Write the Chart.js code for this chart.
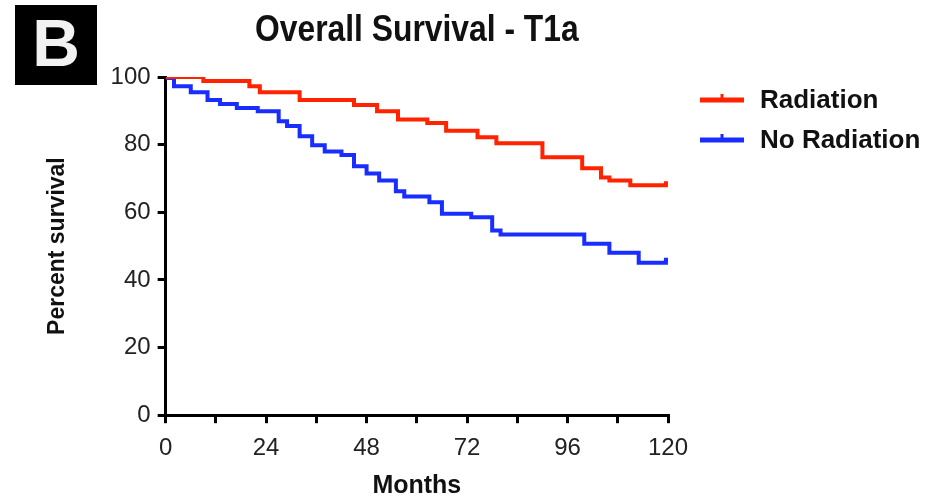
<!DOCTYPE html>
<html>
<head>
<meta charset="utf-8">
<script src="https://cdn.jsdelivr.net/npm/chart.js@4"></script>
<style>
  html, body { margin: 0; padding: 0; background: #fff; }
  #wrap { width: 932px; height: 498px; }
</style>
</head>
<body>
<div id="wrap"><canvas id="survivalChart"></canvas></div>
<script>
// KAPLAN-MEIER STEPS (month of drop, survival % after it)
const radMonths = [0, 9, 20, 22.5, 32, 45, 50.5, 55.5, 62.5, 67, 74.5, 79, 90, 99.5, 104, 106, 111, 119.5, 120];
const radSurvival = [100, 98.8, 97.3, 95.5, 93.2, 91.7, 89.9, 87.4, 86.4, 84.1, 82.2, 80.4, 76.3, 73, 70.3, 69.4, 68, 68.6, 68.6];

const noRadMonths = [0, 0.5, 2, 6, 10, 13, 17, 22, 27, 29, 32, 35, 38, 42, 45, 48, 51, 55, 57, 63, 66, 73, 78, 80, 100, 106, 113, 119.5, 120];
const noRadSurvival = [100, 99.7, 97.3, 95.5, 93.2, 92, 90.8, 89.9, 86.9, 85.5, 82.5, 79.8, 78, 76.9, 73.6, 71.5, 69.4, 66.2, 64.7, 63, 59.6, 58.5, 54.6, 53.4, 50.7, 48, 45.1, 46, 46];

const seriesLabels = ['Radiation', 'No Radiation'];
const xTickValues = [0, 24, 48, 72, 96, 120];

const FONT = '"Liberation Sans", Arial, sans-serif';

function toPoints(xs, ys) {
  return xs.map((x, i) => ({ x: x, y: ys[i] }));
}

// panel letter, condensed title and the legend on the right
const decorations = {
  id: 'decorations',
  afterDraw(chart) {
    const ctx = chart.ctx;
    const area = chart.chartArea;
    ctx.save();

    // "B" badge
    ctx.fillStyle = '#000';
    ctx.fillRect(15, 5, 82, 80);
    ctx.fillStyle = '#f2f2f2';
    ctx.font = 'bold 66px ' + FONT;
    ctx.textAlign = 'center';
    ctx.textBaseline = 'middle';
    ctx.fillText('B', 56, 48);

    // title, a bit narrow like the original
    ctx.save();
    ctx.translate((area.left + area.right) / 2, 31);
    ctx.scale(0.86, 1);
    ctx.fillStyle = '#111';
    ctx.font = 'bold 37px ' + FONT;
    ctx.fillText('Overall Survival - T1a', 0, 0);
    ctx.restore();

    // legend
    ctx.font = 'bold 26px ' + FONT;
    ctx.textAlign = 'left';
    chart.data.datasets.forEach((ds, i) => {
      const y = 100 + i * 40;
      ctx.fillStyle = ds.borderColor;
      ctx.fillRect(700, y - 2.5, 44, 5);
      ctx.fillRect(720.5, y - 6, 3, 6);
      ctx.fillStyle = '#111';
      ctx.fillText(ds.label, 760, y + 1);
    });
    ctx.restore();
  }
};

const ctx = document.getElementById('survivalChart').getContext('2d');
new Chart(ctx, {
  type: 'line',
  data: {
    datasets: [
      {
        label: seriesLabels[0],
        data: toPoints(radMonths, radSurvival),
        borderColor: 'rgb(255, 35, 0)',
        backgroundColor: 'rgb(255, 35, 0)',
        borderWidth: 4,
        pointRadius: 0,
        stepped: true
      },
      {
        label: seriesLabels[1],
        data: toPoints(noRadMonths, noRadSurvival),
        borderColor: 'rgb(25, 45, 255)',
        backgroundColor: 'rgb(25, 45, 255)',
        borderWidth: 4,
        pointRadius: 0,
        stepped: true
      }
    ]
  },
  options: {
    responsive: true,
    maintainAspectRatio: false,
    animation: false,
    layout: { padding: { top: 77, left: 32, right: 264, bottom: -1 } },
    plugins: {
      tooltip: { enabled: false },
      title: { display: false },
      legend: { display: false }
    },
    scales: {
      x: {
        type: 'linear',
        min: 0,
        max: 120,
        ticks: {
          stepSize: 12,
          autoSkip: false,
          maxRotation: 0,
          padding: 11,
          color: '#222',
          font: { family: FONT, size: 24 },
          callback: v => (xTickValues.includes(v) ? v : '')
        },
        grid: { drawOnChartArea: false, drawTicks: true, tickLength: 8, color: '#000', lineWidth: 3 },
        border: { color: '#000', width: 3 },
        title: {
          display: true,
          text: 'Months',
          color: '#111',
          font: { family: FONT, size: 25, weight: 'bold', lineHeight: 1 },
          padding: { top: 0, bottom: 0 }
        }
      },
      y: {
        min: 0,
        max: 100,
        ticks: {
          stepSize: 20,
          padding: 7,
          color: '#222',
          font: { family: FONT, size: 24 }
        },
        grid: { drawOnChartArea: false, drawTicks: true, tickLength: 8, color: '#000', lineWidth: 3 },
        border: { color: '#000', width: 3 },
        title: {
          display: true,
          text: 'Percent survival',
          color: '#111',
          font: { family: FONT, size: 23, weight: 'bold' },
          padding: { top: 12, bottom: 32 }
        }
      }
    }
  },
  plugins: [decorations]
});
</script>
</body>
</html>
